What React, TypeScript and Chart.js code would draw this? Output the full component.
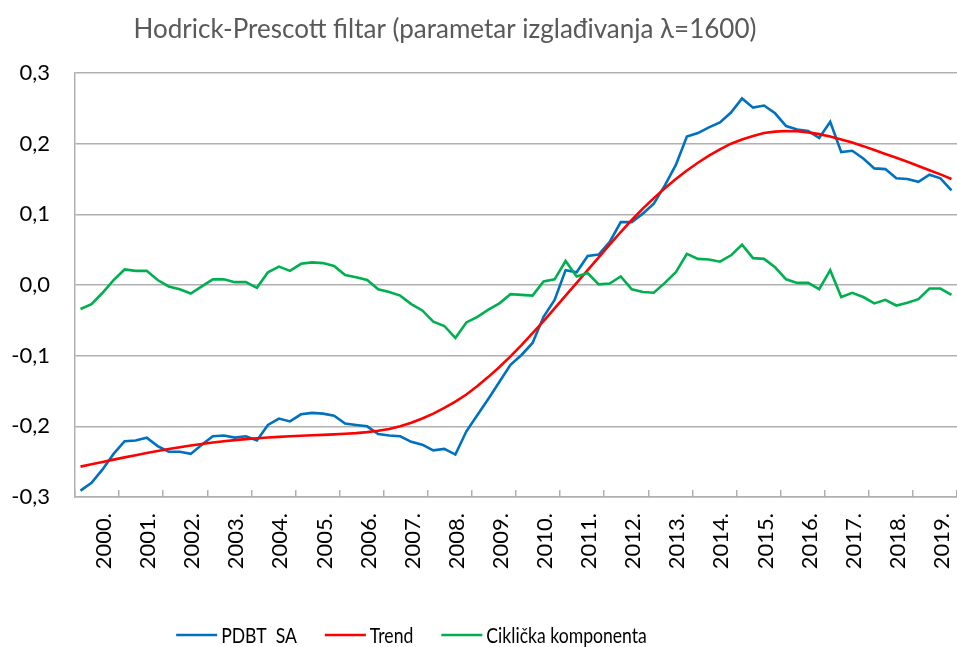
import React, { useEffect, useRef } from 'react';
import { Chart, registerables } from 'chart.js';

Chart.register(...registerables);

const chartTitle = 'Hodrick-Prescott filtar (parametar izglađivanja λ=1600)';

const years = [
  '2000.', '2001.', '2002.', '2003.', '2004.', '2005.', '2006.', '2007.', '2008.', '2009.',
  '2010.', '2011.', '2012.', '2013.', '2014.', '2015.', '2016.', '2017.', '2018.', '2019.',
];

const seriesNames = ['PDBT  SA', 'Trend', 'Ciklička komponenta'];

const yTickValues = [-0.3, -0.2, -0.1, 0, 0.1, 0.2, 0.3];

// quarterly values 2000Q1 .. 2019Q4
const pdbtSA = [
  -0.291, -0.280, -0.261, -0.239, -0.221, -0.220, -0.216, -0.228,
  -0.236, -0.236, -0.239, -0.226, -0.214, -0.213, -0.216, -0.214,
  -0.220, -0.198, -0.189, -0.193, -0.183, -0.181, -0.182, -0.185,
  -0.196, -0.198, -0.200, -0.211, -0.213, -0.214, -0.222, -0.226,
  -0.234, -0.232, -0.240, -0.207, -0.184, -0.161, -0.137, -0.113,
  -0.099, -0.082, -0.045, -0.021, 0.021, 0.018, 0.041, 0.043,
  0.061, 0.089, 0.089, 0.101, 0.115, 0.141, 0.170, 0.210,
  0.215, 0.223, 0.230, 0.244, 0.264, 0.251, 0.254, 0.243,
  0.225, 0.220, 0.218, 0.208, 0.231, 0.188, 0.190, 0.179,
  0.165, 0.164, 0.151, 0.150, 0.146, 0.156, 0.151, 0.134,
];

const trend = [
  -0.2570, -0.2537, -0.2504, -0.2471, -0.2439, -0.2408, -0.2378, -0.2349,
  -0.2321, -0.2295, -0.2271, -0.2249, -0.2229, -0.2211, -0.2195, -0.2181,
  -0.2169, -0.2158, -0.2149, -0.2141, -0.2134, -0.2127, -0.2121, -0.2114,
  -0.2106, -0.2096, -0.2082, -0.2063, -0.2037, -0.2000, -0.1950, -0.1890,
  -0.1820, -0.1740, -0.1650, -0.1550, -0.1430, -0.1300, -0.1160, -0.1010,
  -0.0850, -0.0680, -0.0510, -0.0330, -0.0150, 0.0030, 0.0210, 0.0390,
  0.0570, 0.0750, 0.0920, 0.1080, 0.1230, 0.1370, 0.1500, 0.1620,
  0.1730, 0.1830, 0.1920, 0.2000, 0.2060, 0.2110, 0.2150, 0.2170,
  0.2180, 0.2175, 0.2160, 0.2135, 0.2100, 0.2060, 0.2015, 0.1965,
  0.1910, 0.1855, 0.1800, 0.1745, 0.1685, 0.1625, 0.1565, 0.1500,
];

const cyclical = [
  -0.034, -0.027, -0.011, 0.007, 0.022, 0.020, 0.020, 0.007,
  -0.002, -0.006, -0.012, -0.002, 0.008, 0.008, 0.004, 0.004,
  -0.004, 0.018, 0.026, 0.020, 0.030, 0.032, 0.031, 0.027,
  0.014, 0.011, 0.007, -0.006, -0.010, -0.015, -0.027, -0.036,
  -0.052, -0.058, -0.075, -0.053, -0.045, -0.035, -0.026, -0.013,
  -0.014, -0.015, 0.005, 0.008, 0.034, 0.012, 0.017, 0.001,
  0.002, 0.012, -0.006, -0.010, -0.011, 0.003, 0.018, 0.044,
  0.037, 0.036, 0.033, 0.042, 0.057, 0.038, 0.037, 0.025,
  0.008, 0.003, 0.003, -0.006, 0.021, -0.017, -0.011, -0.017,
  -0.026, -0.021, -0.029, -0.025, -0.020, -0.005, -0.005, -0.014,
];

const colors = ['#0070C0', '#FF0000', '#00B050'];
const gridColor = '#b0b0b0';
const axisFont = "Lato, 'Open Sans', sans-serif";

const toPoints = (arr: number[]) => arr.map((v, i) => ({ x: i + 0.5, y: v }));

const fmt = (v: number) => {
  if (Math.abs(v) < 1e-9) return '0,0';
  return v.toFixed(1).replace('.', ',');
};

const overlayPlugin = {
  id: 'overlayText',
  afterDraw(chart: any) {
    const ctx = chart.ctx as CanvasRenderingContext2D;
    ctx.save();
    // title
    ctx.fillStyle = '#595959';
    ctx.font = `26px ${axisFont}`;
    ctx.textAlign = 'center';
    ctx.textBaseline = 'middle';
    ctx.fillText(chartTitle, 445, 30);
    ctx.restore();

    // legend (condensed text, as in the original)
    ctx.save();
    const squeeze = 0.8;
    ctx.font = `22px ${axisFont}`;
    const lineLen = 41;
    const gap = 4;
    const pad = 28;
    const items = chart.data.datasets.map((ds: any) => ({
      label: ds.label as string,
      color: ds.borderColor as string,
      w: ctx.measureText(ds.label).width * squeeze,
    }));
    const total =
      items.reduce((s: number, it: any) => s + lineLen + gap + it.w, 0) + pad * (items.length - 1);
    let x = 411.5 - total / 2;
    const y = 635;
    items.forEach((it: any) => {
      ctx.strokeStyle = it.color;
      ctx.lineWidth = 2.6;
      ctx.beginPath();
      ctx.moveTo(x, y);
      ctx.lineTo(x + lineLen, y);
      ctx.stroke();
      x += lineLen + gap;
      ctx.save();
      ctx.translate(x, y + 1);
      ctx.scale(squeeze, 1);
      ctx.fillStyle = '#000000';
      ctx.textAlign = 'left';
      ctx.textBaseline = 'middle';
      ctx.fillText(it.label, 0, 0);
      ctx.restore();
      x += it.w + pad;
    });
    ctx.restore();
  },
};

export default function App() {
  const canvasRef = useRef<HTMLCanvasElement | null>(null);

  useEffect(() => {
    if (!canvasRef.current) return;
    const series = [pdbtSA, trend, cyclical];
    const chart = new Chart(canvasRef.current, {
      type: 'line',
      data: {
        datasets: series.map((arr, k) => ({
          label: seriesNames[k],
          data: toPoints(arr),
          borderColor: colors[k],
          backgroundColor: colors[k],
          borderWidth: 2.6,
          pointRadius: 0,
          tension: 0,
          fill: false,
          order: 3 - k,
        })),
      },
      options: {
        animation: false,
        responsive: false,
        devicePixelRatio: 1,
        layout: { padding: { top: 73, left: 0, right: 0, bottom: 0 } },
        plugins: {
          legend: { display: false },
          title: { display: false },
          tooltip: { enabled: false },
        },
        scales: {
          x: {
            type: 'linear',
            min: 0,
            max: years.length * 4,
            afterBuildTicks: (scale: any) => {
              const t = years.map((_, k) => ({ value: k * 4 }));
              t.push({ value: years.length * 4 });
              scale.ticks = t;
            },
            afterFit: (scale: any) => {
              scale.height = 150;
              scale.paddingLeft = 0;
              scale.paddingRight = 0;
            },
            grid: {
              drawOnChartArea: false,
              drawTicks: true,
              tickLength: -7,
              color: gridColor,
              lineWidth: 1.5,
            },
            border: { display: true, color: gridColor, width: 1.5 },
            ticks: {
              autoSkip: false,
              minRotation: 90,
              maxRotation: 90,
              labelOffset: 29,
              padding: 23,
              color: '#000000',
              font: { family: axisFont, size: 22 },
              callback: (_v: any, index: number) => years[index] ?? '',
            },
          },
          y: {
            min: -0.3,
            max: 0.3,
            afterBuildTicks: (scale: any) => {
              scale.ticks = yTickValues.map((v) => ({ value: v }));
            },
            afterFit: (scale: any) => {
              scale.width = 75;
            },
            grid: {
              drawTicks: false,
              color: gridColor,
              lineWidth: 1.5,
            },
            border: { display: true, color: gridColor, width: 1.5 },
            ticks: {
              padding: 25,
              color: '#000000',
              font: { family: axisFont, size: 22 },
              callback: (v: any) => fmt(Number(v)),
            },
          },
        },
      },
      plugins: [overlayPlugin],
    } as any);
    return () => {
      chart.destroy();
    };
  }, []);

  return (
    <div style={{ position: 'fixed', left: 0, top: 0, width: 957, height: 647, background: '#ffffff' }}>
      <canvas ref={canvasRef} width={957} height={647} style={{ width: 957, height: 647, display: 'block' }} />
    </div>
  );
}
